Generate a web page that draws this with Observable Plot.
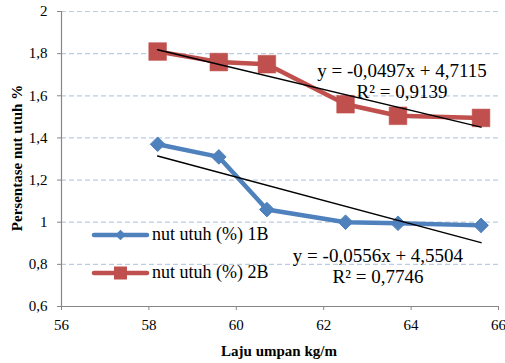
<!DOCTYPE html>
<html><head><meta charset="utf-8">
<script src="https://cdn.jsdelivr.net/npm/d3@7"></script>
<script src="https://cdn.jsdelivr.net/npm/@observablehq/plot@0.6"></script>
<style>
html,body{margin:0;padding:0;background:#fff;overflow:hidden;}
</style></head>
<body><div id="chart"></div>
<script>
// Data
const laju = [58.2, 59.6, 60.7, 62.5, 63.7, 65.6];
const nut1B = [1.37, 1.31, 1.06, 1.00, 0.995, 0.985];
const nut2B = [1.81, 1.76, 1.75, 1.56, 1.505, 1.495];
const seriesNames = ["nut utuh (%) 1B", "nut utuh (%) 2B"];
const trendSlope = [-0.0556, -0.0497];
const trendIntercept = [4.5504, 4.7115];
const trendR2 = ["0,7746", "0,9139"];
const xTicks = [56, 58, 60, 62, 64, 66];
const yTicks = [0.6, 0.8, 1, 1.2, 1.4, 1.6, 1.8, 2];

const colors = ["#4f81bd", "#c0504d"];
const serif = "Liberation Serif";
const fmt = d => String(d).replace(".", ",");
const fmtCoef = (v, n) => v.toFixed(n).replace(".", ",");

const rows1 = laju.map((x, i) => ({x, y: nut1B[i]}));
const rows2 = laju.map((x, i) => ({x, y: nut2B[i]}));
const xMin = d3.min(laju), xMax = d3.max(laju);
const trends = [0, 1].flatMap(k => [xMin, xMax].map(x => ({k, x, y: trendSlope[k] * x + trendIntercept[k]})));

const W = 505, H = 363, mL = 61, mR = 7, mT = 11, mB = 57;

const chart = Plot.plot({
  width: W, height: H,
  marginLeft: mL, marginRight: mR, marginTop: mT, marginBottom: mB,
  style: {fontFamily: serif, fontSize: "15px", background: "#fff", color: "#000", overflow: "visible"},
  x: {domain: [56, 66], ticks: xTicks, label: null},
  y: {domain: [0.6, 2], ticks: yTicks, label: null},
  marks: [
    Plot.gridY(yTicks.filter(t => t > 0.6), {stroke: "#b9cde5", strokeOpacity: 1, strokeDasharray: "5,3", strokeWidth: 1.2}),
    Plot.ruleX([56], {stroke: "#868686", strokeWidth: 1.2}),
    Plot.ruleY([0.6], {stroke: "#868686", strokeWidth: 1.2}),
    Plot.axisX({ticks: xTicks, tickSize: 4, tickPadding: 9, stroke: "#868686", tickFormat: fmt, fontSize: 15, label: null}),
    Plot.axisY({ticks: yTicks, tickSize: 4, tickPadding: 10, stroke: "#868686", tickFormat: fmt, fontSize: 15, label: null}),
    Plot.line(rows1, {x: "x", y: "y", stroke: colors[0], strokeWidth: 4.5, strokeLinejoin: "round", strokeLinecap: "round"}),
    Plot.dot(rows1, {x: "x", y: "y", symbol: "diamond2", r: 6.6, fill: colors[0], stroke: colors[0], strokeWidth: 1}),
    Plot.line(rows2, {x: "x", y: "y", stroke: colors[1], strokeWidth: 4.5, strokeLinejoin: "round", strokeLinecap: "round"}),
    Plot.dot(rows2, {x: "x", y: "y", symbol: "square", r: 10, fill: colors[1], stroke: colors[1], strokeWidth: 0.5}),
    Plot.line(trends, {x: "x", y: "y", z: "k", stroke: "#000", strokeWidth: 1.5})
  ]
});
document.getElementById("chart").appendChild(chart);

// Annotations (layout in pixels)
const svg = d3.select(chart);
const addText = (x, y, txt, opts = {}) => svg.append("text")
  .attr("x", x).attr("y", y).attr("text-anchor", opts.anchor || "middle")
  .attr("font-size", opts.size || 18)
  .attr("font-weight", opts.weight || "normal").attr("fill", "#000")
  .attr("transform", opts.transform || null).text(txt);

// axis titles
addText(279, 356, "Laju umpan kg/m", {size: 15, weight: "bold"});
addText(0, 0, "Persentase nut utuh %", {size: 15, weight: "bold", transform: "translate(22,158) rotate(-90)"});

// trend equations
const eq = k => `y = ${fmtCoef(trendSlope[k], 4)}x + ${fmtCoef(trendIntercept[k], 4)}`;
addText(402, 77, eq(1), {size: 19});
addText(402, 98, `R² = ${trendR2[1]}`, {size: 19});
addText(378, 262, eq(0), {size: 19});
addText(378, 283, `R² = ${trendR2[0]}`, {size: 19});

// legend
const legY = [235, 273];
[0, 1].forEach(k => {
  const g = svg.append("g");
  g.append("line").attr("x1", 94).attr("x2", 147).attr("y1", legY[k]).attr("y2", legY[k])
    .attr("stroke", colors[k]).attr("stroke-width", 4.5).attr("stroke-linecap", "round");
  if (k === 0) {
    g.append("path").attr("d", d3.symbol(d3.symbolDiamond2, 70)())
      .attr("transform", `translate(120.5,${legY[k]})`).attr("fill", colors[k]);
  } else {
    g.append("rect").attr("x", 114).attr("y", legY[k] - 6.5).attr("width", 13).attr("height", 13).attr("fill", colors[k]);
  }
  addText(152, legY[k] + 5, seriesNames[k], {anchor: "start"});
});

svg.attr("font-family", serif);
svg.selectAll("text").attr("font-family", serif);
</script>
</body></html>
